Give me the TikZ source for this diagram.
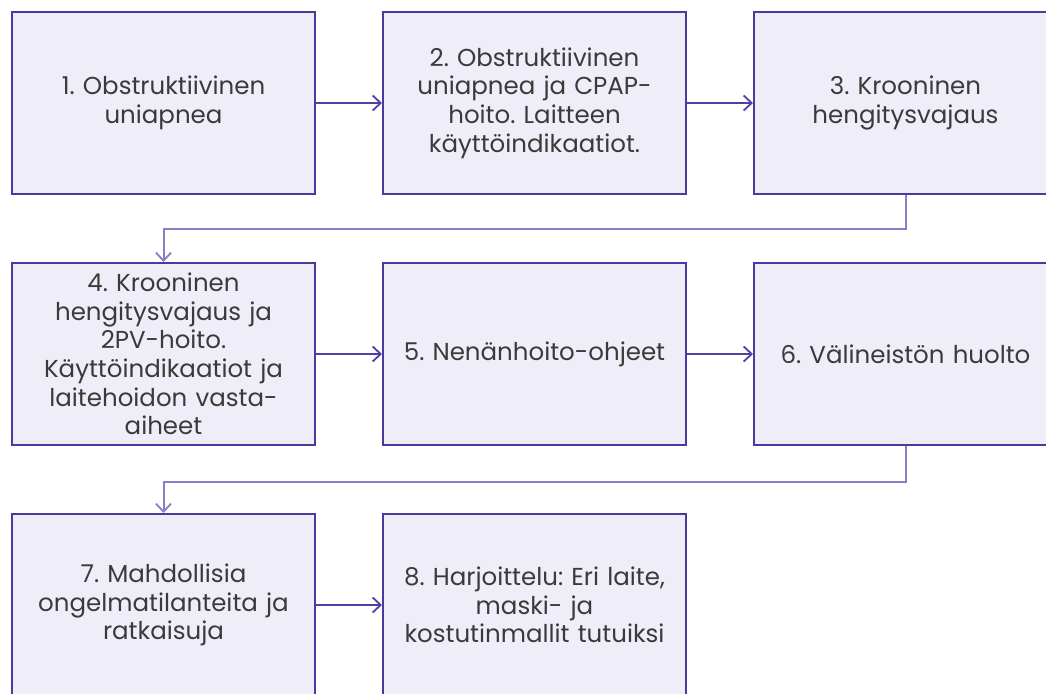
\documentclass[tikz,border=0pt]{standalone}
\usepackage{fontspec}
\setmainfont{Poppins}
\usetikzlibrary{arrows.meta}
\definecolor{boxfill}{HTML}{EFEEF8}
\definecolor{boxline}{HTML}{4A3A9E}
\definecolor{arrowdark}{HTML}{4F3FA6}
\definecolor{arrowlight}{HTML}{8A7CC6}
\definecolor{txt}{HTML}{3A3A3A}
\begin{document}
\frenchspacing
\begin{tikzpicture}[x=1pt,y=-1pt,
  stepbox/.style={draw=boxline,line width=2pt,fill=boxfill,minimum width=303pt,minimum height=182pt,
    anchor=north west,inner sep=0pt,text width=298pt,align=center,text=txt,
    font=\fontsize{24.5pt}{28.6pt}\selectfont},
  flow/.style={draw=arrowdark,line width=2pt,-{Straight Barb[length=8pt,width=15pt,line width=1.8pt]}},
  wrap/.style={draw=arrowlight,line width=2pt,-{Straight Barb[length=8pt,width=15pt,line width=1.8pt]}}]
\useasboundingbox (0,0) rectangle (1046,693);
\node[stepbox] (b1) at (11,11) {1. Obstruktiivinen\\uniapnea};
\node[stepbox] (b2) at (382,11) {2. Obstruktiivinen\\uniapnea ja CPAP-\\hoito. Laitteen\\käyttöindikaatiot.};
\node[stepbox] (b3) at (753,11) {3. Krooninen\\hengitysvajaus};
\node[stepbox] (b4) at (11,262) {4. Krooninen\\hengitysvajaus ja\\2PV-hoito.\\Käyttöindikaatiot ja\\laitehoidon vasta-\\aiheet};
\node[stepbox] (b5) at (382,262) {5. Nenänhoito-ohjeet};
\node[stepbox] (b6) at (753,262) {6. Välineistön huolto};
\node[stepbox] (b7) at (11,513) {7. Mahdollisia\\ongelmatilanteita ja\\ratkaisuja};
\node[stepbox] (b8) at (382,513) {8. Harjoittelu: Eri laite,\\maski- ja\\kostutinmallit tutuiksi};
\draw[flow] (b1.east) -- (b2.west);
\draw[flow] (b2.east) -- (b3.west);
\draw[flow] (b4.east) -- (b5.west);
\draw[flow] (b5.east) -- (b6.west);
\draw[flow] (b7.east) -- (b8.west);
\draw[wrap] (b3.south) -- ++(0,34) -| (b4.north);
\draw[wrap] (b6.south) -- ++(0,36) -| (b7.north);
\end{tikzpicture}
\end{document}
